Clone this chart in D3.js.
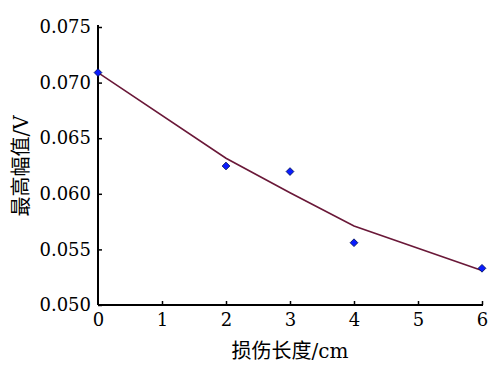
<!DOCTYPE html>
<html>
<head>
<meta charset="utf-8">
<script src="https://cdn.jsdelivr.net/npm/d3@7"></script>
<style>
	html, body { margin: 0; padding: 0; background: #fff; }
	svg { display: block; }
</style>
</head>
<body>
<svg id="chart" width="500" height="365"></svg>
<script>
// damage length (cm) and measured peak amplitude (V)
const lengths = [0, 2, 3, 4, 6];
const measured = [0.0709, 0.0625, 0.0620, 0.0556, 0.0533];
// fitted curve values at the same lengths
const fitted = [0.0709, 0.0632, 0.0601, 0.0571, 0.0531];

const xTicks = [0, 1, 2, 3, 4, 5, 6];
const yTicks = [0.050, 0.055, 0.060, 0.065, 0.070, 0.075];

const xLabel = '损伤长度/cm';
const yLabel = '最高幅值/V';

const serif = '"DejaVu Serif", "Liberation Serif", "Noto Sans CJK SC"';

const svg = d3.select('#chart');

const scaleX = d3.scaleLinear().domain([0, 6]).range([98, 482]);
const scaleY = d3.scaleLinear().domain([0.05, 0.075]).range([305, 27]);

// axes (ticks point inward)
const axisX = d3.axisBottom(scaleX).tickValues(xTicks).tickSize(-4).tickPadding(8).tickFormat(d3.format('d'));
const axisY = d3.axisLeft(scaleY).tickValues(yTicks).tickSize(-4).tickPadding(7).tickFormat(d3.format('.3f'));

const gx = svg.append('g').attr('transform', 'translate(0,305)').call(axisX);
const gy = svg.append('g').attr('transform', 'translate(98,0)').call(axisY);

[gx, gy].forEach((g) => {
	g.attr('font-family', null).attr('font-size', null);
	g.select('.domain').attr('stroke', '#000').attr('stroke-width', 2);
	g.selectAll('.tick line').attr('stroke', '#000').attr('stroke-width', 1.5);
	g.selectAll('.tick text')
		.attr('fill', '#000')
		.style('font-family', serif)
		.style('font-size', '18px');
});
gy.select('.domain').attr('d', 'M0,305V25');
gx.select('.domain').attr('d', 'M98,0H483');
gx.selectAll('.tick').filter((d) => d === 0).select('line').remove();

// fitted curve
const line = d3.line()
	.x((d, i) => scaleX(lengths[i]))
	.y((d) => scaleY(d));

svg.append('path')
	.datum(fitted)
	.attr('d', line)
	.attr('fill', 'none')
	.attr('stroke', '#6a1838')
	.attr('stroke-width', 1.6);

// measured points
const symbol = d3.symbol().type(d3.symbolSquare).size(30);
svg.append('g')
	.selectAll('path')
	.data(measured)
	.join('path')
	.attr('transform', (d, i) => `translate(${scaleX(lengths[i])},${scaleY(d)}) rotate(45)`)
	.attr('d', symbol)
	.attr('fill', '#0a1cff')
	.attr('stroke', '#00105a')
	.attr('stroke-width', 0.8);

// axis titles
svg.append('text')
	.attr('x', 290)
	.attr('y', 358)
	.attr('text-anchor', 'middle')
	.style('font-family', serif)
	.style('font-size', '20px')
	.attr('fill', '#000')
	.text(xLabel);

svg.append('text')
	.attr('transform', 'translate(28,166) rotate(-90)')
	.attr('text-anchor', 'middle')
	.style('font-family', serif)
	.style('font-size', '20px')
	.attr('fill', '#000')
	.text(yLabel);
</script>
</body>
</html>
